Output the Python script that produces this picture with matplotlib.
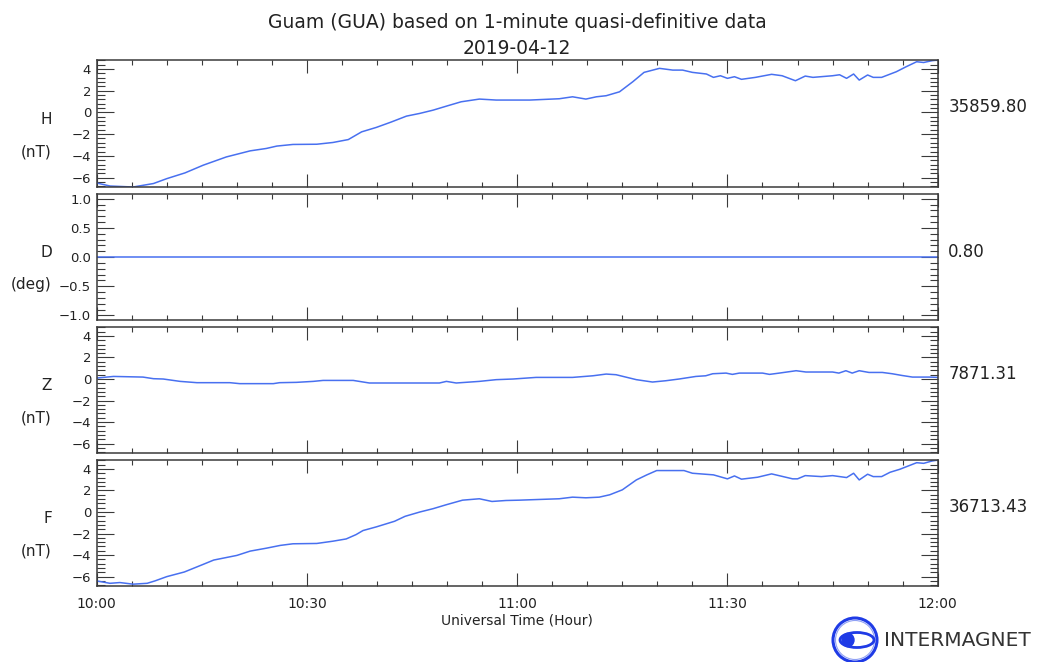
import matplotlib
matplotlib.use("Agg")
import matplotlib.pyplot as plt
import matplotlib.ticker as mt
import matplotlib.transforms as mtrans
from matplotlib.patches import Circle, Ellipse

W, H = 1037, 662

# minutes after 10:00 UT, values relative to baseline
h_t = [0, 1.9, 5.2, 8.1, 10, 12.6, 15.2, 18.5, 21.9, 24.2, 25.7, 28, 31.4, 33.7, 35.9, 37.8,
       39.9, 42, 44.2, 46.1, 48, 49.9, 52, 54.6, 57, 60.3, 61.8, 66, 67.9, 69.8, 71.3, 72.7,
       74.6, 76.5, 78.1, 80.3, 82.2, 83.6, 85, 87, 88, 89, 90, 91, 92, 94, 96.3, 97.8, 99.7,
       101.1, 102.2, 105, 106, 107, 108, 108.8, 110, 110.8, 112, 114.1, 115.5, 117, 118, 119.2, 120]
h_v = [-6.5, -6.78, -6.87, -6.55, -6.1, -5.57, -4.86, -4.1, -3.54, -3.32, -3.1, -2.95, -2.93,
       -2.77, -2.5, -1.79, -1.38, -0.89, -0.34, -0.09, 0.21, 0.58, 0.98, 1.23, 1.14, 1.14, 1.14,
       1.26, 1.44, 1.23, 1.44, 1.54, 1.9, 2.83, 3.69, 4.06, 3.9, 3.9, 3.69, 3.54, 3.23, 3.38,
       3.14, 3.29, 3.05, 3.23, 3.51, 3.38, 2.92, 3.35, 3.23, 3.38, 3.47, 3.14, 3.54, 2.98, 3.45,
       3.23, 3.23, 3.75, 4.21, 4.67, 4.6, 4.77, 4.83]

d_t = [0, 120]
d_v = [0.0, 0.0]

z_t = [0, 2.4, 6.6, 8.1, 9.5, 11.9, 14.3, 19.0, 20.4, 25.2, 26.1, 28.5, 30.9, 32.3, 36.6, 38.9,
       42.8, 48.9, 49.9, 51.3, 54.6, 57, 59.4, 62.7, 66, 67.9, 70.8, 72.7, 74.1, 77, 79.3, 81.2,
       83.1, 85.5, 86.9, 87.9, 89.8, 90.7, 91.7, 95, 96, 97.4, 99.8, 101.2, 105, 105.9, 106.9,
       107.8, 108.8, 110.2, 112.1, 113.5, 114.9, 116.4, 118.8, 120]
z_v = [0.09, 0.24, 0.18, 0.03, 0.0, -0.22, -0.34, -0.34, -0.43, -0.43, -0.34, -0.31, -0.22,
       -0.13, -0.13, -0.37, -0.37, -0.37, -0.22, -0.37, -0.22, -0.06, 0.0, 0.15, 0.15, 0.15,
       0.3, 0.46, 0.4, -0.06, -0.28, -0.16, 0.0, 0.24, 0.3, 0.49, 0.55, 0.43, 0.55, 0.55, 0.43,
       0.55, 0.77, 0.65, 0.65, 0.55, 0.77, 0.55, 0.77, 0.61, 0.61, 0.49, 0.33, 0.18, 0.18, 0.15]

f_t = [0, 1.9, 3.3, 5.2, 7.2, 8.3, 10, 12.5, 15.2, 16.7, 20, 21.9, 24.2, 26.2, 28, 31.4, 33.7,
       35.6, 37, 38, 39.9, 42.5, 44, 46.1, 48, 49.9, 52.2, 54.6, 56.4, 58.4, 60.3, 62, 66, 67.9,
       69.8, 71.7, 73.2, 75, 77, 78.5, 79.9, 82.2, 83.8, 85, 88, 90, 91, 92, 94.3, 96.3, 99.3,
       100, 101.1, 103.4, 105, 107, 108, 108.8, 110, 110.8, 112, 113.2, 114.6, 117, 118, 119.2, 120]
f_v = [-6.4, -6.62, -6.55, -6.7, -6.62, -6.4, -6.0, -5.57, -4.86, -4.46, -4.03, -3.63, -3.36,
       -3.1, -2.95, -2.92, -2.71, -2.5, -2.1, -1.72, -1.38, -0.86, -0.4, 0.0, 0.31, 0.68, 1.1,
       1.23, 0.98, 1.07, 1.1, 1.14, 1.23, 1.38, 1.32, 1.38, 1.6, 2.06, 2.98, 3.45, 3.85, 3.85,
       3.85, 3.6, 3.45, 3.08, 3.35, 3.05, 3.23, 3.54, 3.08, 3.08, 3.38, 3.29, 3.38, 3.2, 3.6,
       2.98, 3.51, 3.29, 3.29, 3.69, 3.97, 4.58, 4.52, 4.74, 4.83]

names = ["H", "D", "Z", "F"]
units = ["(nT)", "(deg)", "(nT)", "(nT)"]
baselines = ["35859.80", "0.80", "7871.31", "36713.43"]
series = [(h_t, h_v), (d_t, d_v), (z_t, z_v), (f_t, f_v)]

title = "Guam (GUA) based on 1-minute quasi-definitive data"
date = "2019-04-12"
xlabel = "Universal Time (Hour)"

line_col = "#4870f0"
frame_col = "#3a3a3a"
text_col = "#222222"

plt.rcParams["font.family"] = ["DejaVu Sans"]

fig = plt.figure(figsize=(W / 100, H / 100), dpi=100)


def fx(x):
    return x / W


def fy(y):
    return 1 - y / H


left, right = 96.7, 937.7
panels = [(60, 187), (194, 320), (327, 453), (460, 586)]

for i, (top, bot) in enumerate(panels):
    ax = fig.add_axes([fx(left), fy(bot), (right - left) / W, (bot - top) / H])
    t, v = series[i]
    ax.plot(t, v, color=line_col, lw=1.1)
    ax.set_xlim(0, 120)
    if names[i] == "D":
        ax.set_ylim(-1.08, 1.08)
        ax.yaxis.set_major_locator(mt.MultipleLocator(0.5))
        ax.yaxis.set_minor_locator(mt.MultipleLocator(0.1))
    else:
        ax.set_ylim(-6.87, 4.83)
        ax.yaxis.set_major_locator(mt.MultipleLocator(2))
        ax.yaxis.set_minor_locator(mt.MultipleLocator(0.4))
    ax.xaxis.set_major_locator(mt.MultipleLocator(30))
    ax.xaxis.set_minor_locator(mt.MultipleLocator(5))
    ax.xaxis.set_major_formatter(mt.FuncFormatter(
        lambda m, p: "%02d:%02d" % (10 + int(m) // 60, int(m) % 60)))
    if i < 3:
        ax.tick_params(axis="x", labelbottom=False)
    ax.tick_params(which="both", direction="in", top=True, right=True,
                   color=frame_col, width=0.8, labelcolor=text_col)
    ax.tick_params(axis="x", which="major", length=9.5, labelsize=10, pad=8)
    ax.tick_params(axis="x", which="minor", length=3.6)
    ax.tick_params(axis="y", which="major", length=12, labelsize=9.5, pad=4)
    ax.tick_params(axis="y", which="minor", length=6)
    for s in ax.spines.values():
        s.set_color(frame_col)
        s.set_linewidth(1.1)

    # baseline value printed right of the panel, sitting on the zero line
    tr = mtrans.blended_transform_factory(ax.transAxes, ax.transData)
    ax.text(1 + 10.6 / (right - left), 0, baselines[i], transform=tr,
            ha="left", va="baseline", fontsize=12, color=text_col)

    mid = (top + bot) / 2
    fig.text(fx(52), fy(mid - 4.5), names[i], ha="right", va="center",
             fontsize=11, color=text_col)
    fig.text(fx(52), fy(mid + 28), units[i], ha="right", va="center",
             fontsize=11, color=text_col)

fig.text(fx(517), fy(22), title, ha="center", va="center", fontsize=13.5, color=text_col)
fig.text(fx(517), fy(48), date, ha="center", va="center", fontsize=13.5, color=text_col)
fig.text(fx(517), fy(621), xlabel, ha="center", va="center", fontsize=10, color=text_col)

# INTERMAGNET logo
lax = fig.add_axes([0, 0, 1, 1])
lax.set_xlim(0, W)
lax.set_ylim(H, 0)
lax.axis("off")
logo_col = "#1f3be6"
lax.add_patch(Circle((855, 640), 22, fill=False, ec=logo_col, lw=2.2))
lax.add_patch(Circle((855, 640), 19.5, fill=False, ec="#8fa0f5", lw=0.8))
lax.add_patch(Ellipse((857, 640), 34, 15, fc="white", ec=logo_col, lw=2))
lax.add_patch(Ellipse((848, 640), 12, 13, fc=logo_col, ec=logo_col))
lax.text(884, 641, "INTERMAGNET", ha="left", va="center", fontsize=14.5, color="#333333")

fig.savefig("out.png", dpi=100)
